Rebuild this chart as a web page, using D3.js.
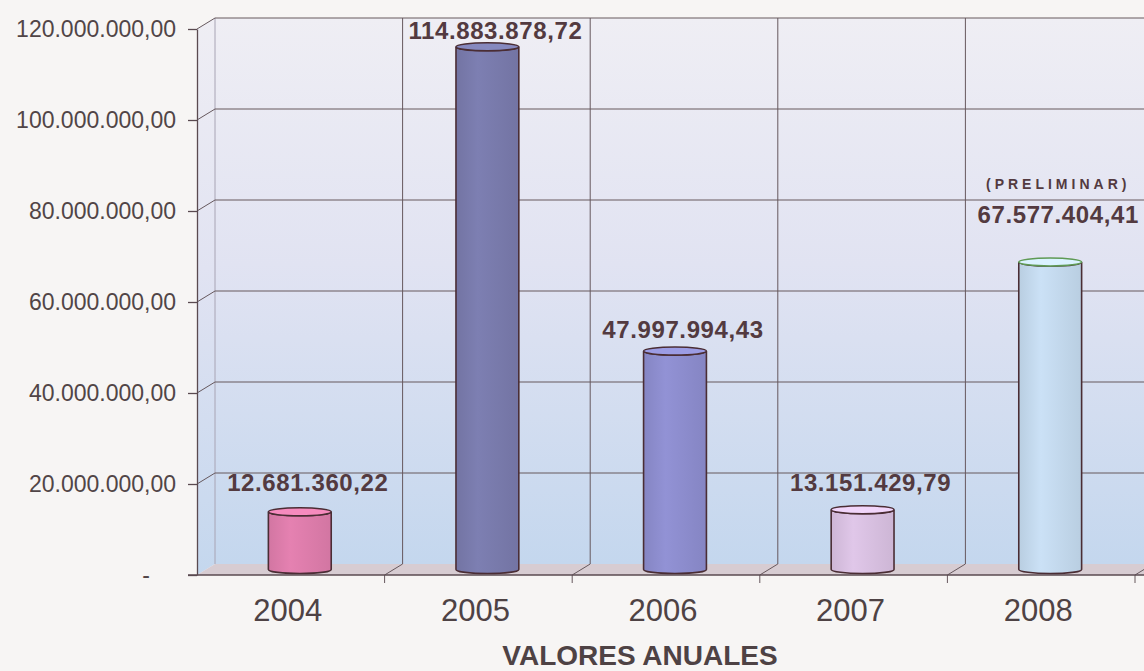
<!DOCTYPE html>
<html>
<head>
<meta charset="utf-8" />
<title>Valores anuales</title>
<style>
  body { margin: 0; background: #f7f5f4; }
  svg { display: block; font-family: Arial, "Liberation Sans", sans-serif; }
</style>
</head>
<body>
<script src="https://cdnjs.cloudflare.com/ajax/libs/d3/7.8.5/d3.min.js"></script>
<script>
var years = ['2004', '2005', '2006', '2007', '2008'];
var values = [12681360.22, 114883878.72, 47997994.43, 13151429.79, 67577404.41];
var notes = ['', '', '', '', '(PRELIMINAR)'];
var barColors = ['#e17fae', '#7b7daf', '#8f8fd1', '#dcc3e5', '#c7ddf2'];
var yTicks = [0, 20000000, 40000000, 60000000, 80000000, 100000000, 120000000];
var axisTitle = 'VALORES ANUALES';

var width = 1144,
    height = 671;

// 3d depth offset of the back wall
var dx = 18, dy = -11;
// label lift above each bar top
var labelLift = [29, 16, 22, 27, 48];

var es = d3.formatLocale({decimal: ',', thousands: '.', grouping: [3], currency: ['', '']});
var fmt = es.format(',.2f');

var svg = d3.select('body').append('svg')
    .attr('width', width)
    .attr('height', height);

var x = d3.scaleBand().domain(years).range([197, 1135]);
var y = d3.scaleLinear().domain([0, 120000000]).range([575, 29]);

var defs = svg.append('defs');
var wall = defs.append('linearGradient').attr('id', 'wall')
    .attr('x1', 0).attr('y1', 0).attr('x2', 0).attr('y2', 1);
wall.append('stop').attr('offset', '0%').attr('stop-color', '#efeef4');
wall.append('stop').attr('offset', '45%').attr('stop-color', '#e1e3f2');
wall.append('stop').attr('offset', '100%').attr('stop-color', '#c4d7ee');

barColors.forEach(function(c, i) {
    var g = defs.append('linearGradient').attr('id', 'bar' + i)
        .attr('x1', 0).attr('y1', 0).attr('x2', 1).attr('y2', 0);
    g.append('stop').attr('offset', '0%').attr('stop-color', d3.color(c).darker(0.2));
    g.append('stop').attr('offset', '35%').attr('stop-color', d3.color(c).brighter(0.05));
    g.append('stop').attr('offset', '100%').attr('stop-color', d3.color(c).darker(0.2));
});

var x0 = x.range()[0], x1 = x.range()[1];
var yTop = y(120000000), yBot = y(0);

// back wall + left wall
svg.append('rect')
    .attr('x', x0 + dx).attr('y', yTop + dy)
    .attr('width', width - x0).attr('height', yBot - yTop)
    .attr('fill', 'url(#wall)');
svg.append('path')
    .attr('d', 'M' + x0 + ',' + yTop + 'L' + (x0 + dx) + ',' + (yTop + dy) +
               'L' + (x0 + dx) + ',' + (yBot + dy) + 'L' + x0 + ',' + yBot + 'Z')
    .attr('fill', 'url(#wall)');
svg.append('line')
    .attr('x1', x0 + dx).attr('x2', x0 + dx)
    .attr('y1', yTop + dy).attr('y2', yBot + dy)
    .attr('stroke', '#a8a4b4').attr('stroke-width', 1);

// floor
svg.append('path')
    .attr('d', 'M' + x0 + ',' + yBot + 'L' + (x0 + dx) + ',' + (yBot + dy) +
               'L' + (width + 20) + ',' + (yBot + dy) + 'L' + (width + 20) + ',' + yBot + 'Z')
    .attr('fill', '#d7ccd2');

var gridColor = '#66585d';

// horizontal gridlines on back wall with diagonal on left wall
var grid = svg.append('g');
yTicks.forEach(function(t) {
    if (t === 0) return;
    grid.append('line')
        .attr('x1', x0 + dx).attr('x2', width)
        .attr('y1', y(t) + dy).attr('y2', y(t) + dy)
        .attr('stroke', gridColor).attr('stroke-width', 1);
    grid.append('line')
        .attr('x1', x0).attr('x2', x0 + dx)
        .attr('y1', y(t)).attr('y2', y(t) + dy)
        .attr('stroke', gridColor).attr('stroke-width', 1);
});

// vertical category lines on back wall, diagonals across floor
var bounds = years.slice(1).map(function(d) { return x(d); }).concat([x1]);
bounds.forEach(function(b) {
    grid.append('line')
        .attr('x1', b + dx).attr('x2', b + dx)
        .attr('y1', yTop + dy).attr('y2', yBot + dy)
        .attr('stroke', gridColor).attr('stroke-width', 1);
    grid.append('path')
        .attr('d', 'M' + b + ',' + (yBot + 8) + 'L' + b + ',' + yBot + 'L' + (b + dx) + ',' + (yBot + dy))
        .attr('fill', 'none')
        .attr('stroke', gridColor).attr('stroke-width', 1);
});

// y axis
var yAxis = d3.axisLeft(y)
    .tickValues(yTicks)
    .tickSize(9)
    .tickSizeOuter(0)
    .tickPadding(12)
    .tickFormat(function(d) { return d === 0 ? '-' : fmt(d); });

var ya = svg.append('g')
    .attr('transform', 'translate(' + x0 + ',0)')
    .call(yAxis);
ya.select('.domain').attr('stroke', '#5a4a50').attr('stroke-width', 1.3);
ya.selectAll('.tick line').attr('stroke', '#5a4a50').attr('stroke-width', 1.3);
ya.selectAll('.tick text')
    .attr('fill', '#514547')
    .style('font-size', '23px')
    .attr('x', function(d) { return d === 0 ? -47 : -21; });

// x axis
var xAxis = d3.axisBottom(x).tickSize(0).tickPadding(24);
var xa = svg.append('g')
    .attr('transform', 'translate(-3,' + yBot + ')')
    .call(xAxis);
xa.select('.domain').remove();
xa.selectAll('.tick text')
    .attr('fill', '#4e4244')
    .style('font-size', '31px');

svg.append('line')
    .attr('x1', x0 - 9).attr('x2', width)
    .attr('y1', yBot).attr('y2', yBot)
    .attr('stroke', '#5a4a50').attr('stroke-width', 1.3);

// cylinders
var bw = x.bandwidth() * 0.335;
var rx = bw / 2, ry = 4;
var bars = svg.append('g').selectAll('g')
    .data(values)
    .enter().append('g');

bars.append('path')
    .attr('d', function(v, i) {
        var cx = x(years[i]) + x.bandwidth() / 2 + dx / 2;
        var top = y(v) + dy / 2, bot = y(0) + dy / 2;
        return 'M' + (cx - rx) + ',' + top + 'L' + (cx - rx) + ',' + bot +
               'A' + rx + ',' + ry + ' 0 0 0 ' + (cx + rx) + ',' + bot +
               'L' + (cx + rx) + ',' + top +
               'A' + rx + ',' + ry + ' 0 0 1 ' + (cx - rx) + ',' + top + 'Z';
    })
    .attr('fill', function(v, i) { return 'url(#bar' + i + ')'; })
    .attr('stroke', '#4a2d34')
    .attr('stroke-width', 1.6);

bars.append('ellipse')
    .attr('cx', function(v, i) { return x(years[i]) + x.bandwidth() / 2 + dx / 2; })
    .attr('cy', function(v) { return y(v) + dy / 2; })
    .attr('rx', rx).attr('ry', ry)
    .attr('fill', function(v, i) { return d3.color(barColors[i]).brighter(0.25); })
    .attr('stroke', function(v, i) { return i === 4 ? '#5f9a55' : '#4a2d34'; })
    .attr('stroke-width', 1.5);

// value labels
bars.append('text')
    .attr('x', function(v, i) { return x(years[i]) + x.bandwidth() / 2 + dx / 2 + 8; })
    .attr('y', function(v, i) { return y(v) + dy / 2 - labelLift[i]; })
    .attr('dy', '0.36em')
    .attr('text-anchor', 'middle')
    .attr('fill', '#533a40')
    .style('font-size', '24px')
    .style('font-weight', 'bold')
    .style('letter-spacing', '0.6px')
    .text(function(v) { return fmt(v); });

bars.filter(function(v, i) { return notes[i] !== ''; })
    .append('text')
    .attr('x', function(v, i) { return x(years[4]) + x.bandwidth() / 2 + dx / 2 + 8; })
    .attr('y', function(v) { return y(v) + dy / 2 - 78; })
    .attr('dy', '0.36em')
    .attr('text-anchor', 'middle')
    .attr('fill', '#533a40')
    .style('font-size', '14px')
    .style('font-weight', 'bold')
    .style('letter-spacing', '4px')
    .text(notes[4]);

// axis title
svg.append('text')
    .attr('x', 640)
    .attr('y', 665)
    .attr('text-anchor', 'middle')
    .attr('fill', '#4e4244')
    .style('font-size', '28px')
    .style('font-weight', 'bold')
    .text(axisTitle);
</script>
</body>
</html>
